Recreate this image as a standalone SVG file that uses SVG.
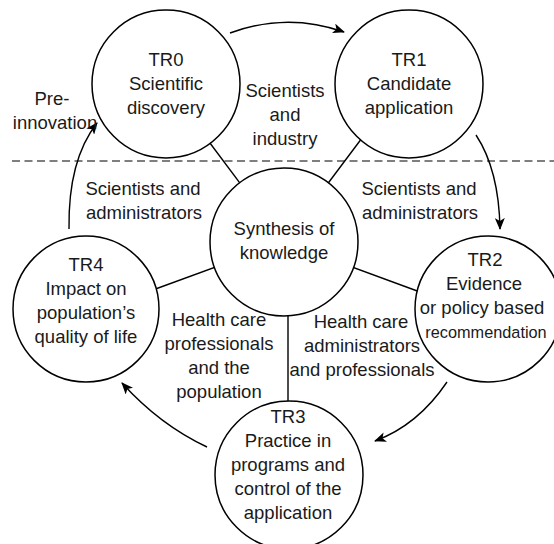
<svg xmlns="http://www.w3.org/2000/svg" width="554" height="544" viewBox="0 0 554 544">
<style>
text{font-family:"Liberation Sans",Arial,sans-serif;font-size:18.5px;fill:#1a1a1a;text-anchor:middle}
.node circle{fill:#fff;stroke:#000;stroke-width:1.5}
.spoke{stroke:#000;stroke-width:1.4;fill:none}
.arrow{stroke:#000;stroke-width:1.4;fill:none;marker-end:url(#ah)}
.dash{stroke:#000;stroke-width:1.2;stroke-dasharray:8,4.5}
</style>
<defs>
<marker id="ah" viewBox="0 0 12 10" refX="11" refY="5" markerWidth="12" markerHeight="10" markerUnits="userSpaceOnUse" orient="auto">
<path d="M0,0 L12,5 L0,10 L3,5 Z" fill="#000"/>
</marker>
</defs>
<line class="dash" x1="12" y1="161" x2="554" y2="161"/>
<g id="connectors">
<line class="spoke" x1="284" y1="242" x2="195" y2="123"/>
<line class="spoke" x1="284" y1="242" x2="374" y2="122"/>
<line class="spoke" x1="284" y1="242" x2="150" y2="291"/>
<line class="spoke" x1="284" y1="242" x2="420" y2="292"/>
<line class="spoke" x1="288" y1="242" x2="288" y2="420"/>
<path class="arrow" d="M230,33 Q287,12 344,32"/>
<path class="arrow" d="M476,135 Q499,170 500,229"/>
<path class="arrow" d="M447,382 Q418,425 375,441"/>
<path class="arrow" d="M207,447 Q160,425 122,383"/>
<path class="arrow" d="M69,229 Q68,160 97,123"/>
</g>
<g id="tr0" class="node">
<circle cx="166" cy="84" r="74"/>
<text x="166" y="66">TR0</text>
<text x="166" y="90">Scientific</text>
<text x="166" y="114">discovery</text>
</g>
<g id="tr1" class="node">
<circle cx="409" cy="84" r="74"/>
<text x="409" y="66">TR1</text>
<text x="409" y="90">Candidate</text>
<text x="409" y="114">application</text>
</g>
<g id="center" class="node">
<circle cx="284" cy="242" r="74"/>
<text x="284" y="235">Synthesis of</text>
<text x="284" y="259">knowledge</text>
</g>
<g id="tr2" class="node">
<circle cx="488" cy="309" r="73"/>
<text x="485" y="266">TR2</text>
<text x="484" y="290">Evidence</text>
<text x="482" y="314">or policy based</text>
<text x="486" y="338" style="font-size:16.3px">recommendation</text>
</g>
<g id="tr3" class="node">
<circle cx="289" cy="475" r="74"/>
<text x="288" y="423">TR3</text>
<text x="288" y="447">Practice in</text>
<text x="288" y="471">programs and</text>
<text x="288" y="495">control of the</text>
<text x="288" y="519">application</text>
</g>
<g id="tr4" class="node">
<circle cx="86" cy="309" r="73"/>
<text x="86" y="271">TR4</text>
<text x="86" y="295">Impact on</text>
<text x="86" y="319">population’s</text>
<text x="86" y="343">quality of life</text>
</g>
<g id="labels">
<text x="52" y="105">Pre-</text>
<text x="55" y="129">innovation</text>
<text x="285" y="97">Scientists</text>
<text x="285" y="121">and</text>
<text x="285" y="145">industry</text>
<text x="143" y="195">Scientists and</text>
<text x="144" y="219">administrators</text>
<text x="419" y="195">Scientists and</text>
<text x="420" y="219">administrators</text>
<text x="219" y="326">Health care</text>
<text x="219" y="350">professionals</text>
<text x="219" y="374">and the</text>
<text x="219" y="398">population</text>
<text x="361" y="328">Health care</text>
<text x="362" y="352">administrators</text>
<text x="362" y="376">and professionals</text>
</g>
</svg>
